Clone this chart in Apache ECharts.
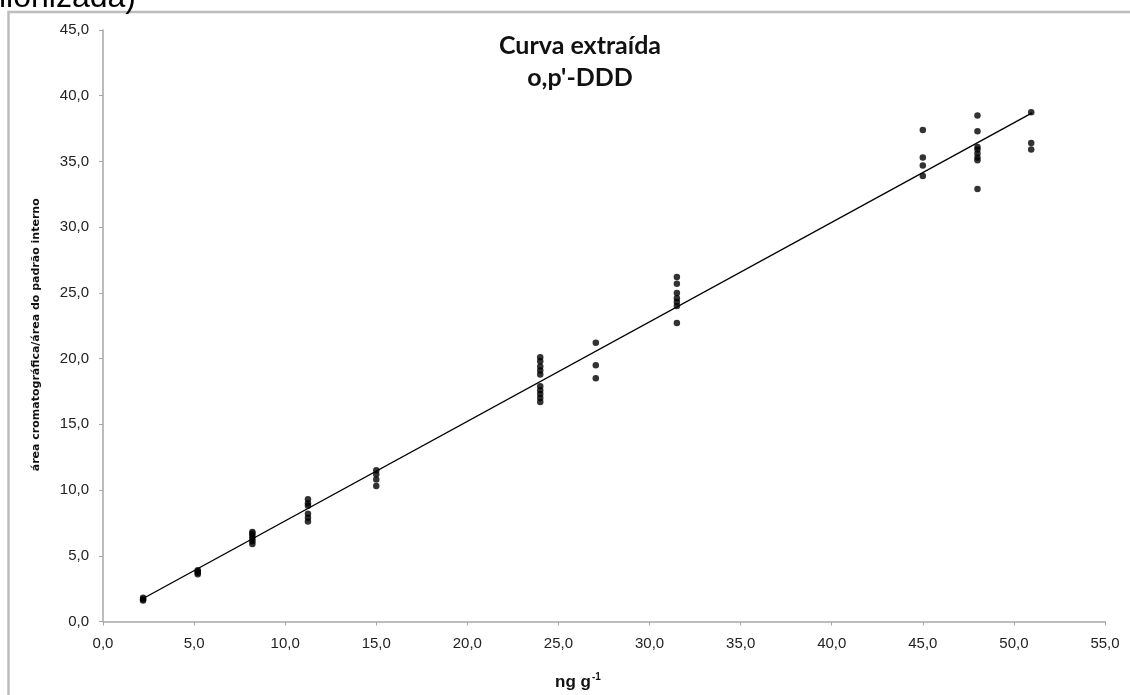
<!DOCTYPE html>
<html>
<head>
<meta charset="utf-8">
<script src="https://cdn.jsdelivr.net/npm/echarts@6/dist/echarts.min.js"></script>
<style>
html,body{margin:0;padding:0;background:#fff;}
#c{width:1130px;height:695px;}
</style>
</head>
<body>
<div id="c"></div>
<script>
// concentration levels (ng g-1) and measured area ratios at each level
var levels = [2.2, 5.2, 8.2, 11.25, 15.0, 24.0, 27.05, 31.5, 45.0, 48.0, 50.95];
var responses = [
  [1.6, 1.7, 1.8],
  [3.6, 3.7, 3.8, 3.9],
  [5.9, 6.1, 6.3, 6.5, 6.7, 6.8],
  [9.3, 9.0, 8.8, 8.2, 7.9, 7.6],
  [11.5, 11.2, 10.8, 10.3],
  [20.1, 19.8, 19.4, 19.1, 18.8, 17.9, 17.6, 17.3, 17.0, 16.7],
  [21.2, 19.5, 18.5],
  [26.2, 25.7, 25.0, 24.6, 24.3, 24.0, 22.7],
  [37.4, 35.3, 34.7, 33.9],
  [38.5, 37.3, 36.1, 35.9, 35.6, 35.3, 35.1, 32.9],
  [38.75, 36.4, 35.9]
];
// regression line end points
var trendX = [2.2, 51.0];
var trendY = [1.75, 38.7];
var xTicks = {min: 0, max: 55, interval: 5};
var yTicks = {min: 0, max: 45, interval: 5};

var scatterData = [];
levels.forEach(function (x, i) {
  responses[i].forEach(function (y) { scatterData.push([x, y]); });
});
var lineData = trendX.map(function (x, i) { return [x, trendY[i]]; });

function fmt(v) { return v.toFixed(1).replace('.', ','); }

var chart = echarts.init(document.getElementById('c'), null, {renderer: 'canvas'});
chart.setOption({
  backgroundColor: '#ffffff',
  animation: false,
  title: {
    text: "Curva extraída\no,p'-DDD",
    left: 575,
    top: 25,
    textAlign: 'center',
    textStyle: {fontFamily: 'Lato', fontWeight: 'bold', fontSize: 25, color: '#111', lineHeight: 32}
  },
  grid: {left: 103, right: 25, top: 30, bottom: 73.5, containLabel: false},
  xAxis: {
    type: 'value', min: xTicks.min, max: xTicks.max, interval: xTicks.interval,
    axisLine: {show: true, lineStyle: {color: '#a6a6a6', width: 1.5}},
    axisTick: {show: true, length: 4, lineStyle: {color: '#a6a6a6', width: 1}},
    splitLine: {show: false},
    axisLabel: {formatter: fmt, fontFamily: 'Liberation Sans', fontSize: 15, color: '#222', margin: 15}
  },
  yAxis: {
    type: 'value', min: yTicks.min, max: yTicks.max, interval: yTicks.interval,
    name: 'área cromatográfica/área do padrão interno',
    nameLocation: 'middle', nameGap: 61,
    nameTextStyle: {fontFamily: 'DejaVu Sans', fontWeight: 'bold', fontSize: 11, color: '#111', padding: [0, 18, 0, 0]},
    axisLine: {show: true, lineStyle: {color: '#a6a6a6', width: 1.5}},
    axisTick: {show: true, length: 4, lineStyle: {color: '#a6a6a6', width: 1}},
    splitLine: {show: false},
    axisLabel: {formatter: fmt, fontFamily: 'Liberation Sans', fontSize: 15, color: '#222', margin: 14}
  },
  graphic: [
    {type: 'polyline', silent: true, shape: {points: [[8.5, 700], [8.5, 12], [1140, 12]]},
     style: {stroke: '#bdbdbd', lineWidth: 2.5, fill: null}},
    {type: 'text', left: -1, top: -18, silent: true,
     style: {text: 'lionizada)', font: '32px "Liberation Sans"', fill: '#000'}},
    {type: 'text', left: 555, top: 672, silent: true,
     style: {
       text: '{b|ng g}{s|-1}',
       rich: {
         b: {fontFamily: 'Liberation Sans', fontWeight: 'bold', fontSize: 17, fill: '#111', verticalAlign: 'bottom'},
         s: {fontFamily: 'Liberation Sans', fontWeight: 'bold', fontSize: 10, fill: '#111', verticalAlign: 'top', padding: [0, 0, 9, 1]}
       }
     }}
  ],
  series: [
    {type: 'line', data: lineData, symbol: 'none', lineStyle: {color: '#000', width: 1.4}, z: 2},
    {type: 'scatter', data: scatterData, symbol: 'circle', symbolSize: 6.5, itemStyle: {color: '#000'}, z: 3}
  ]
});
</script>
</body>
</html>
